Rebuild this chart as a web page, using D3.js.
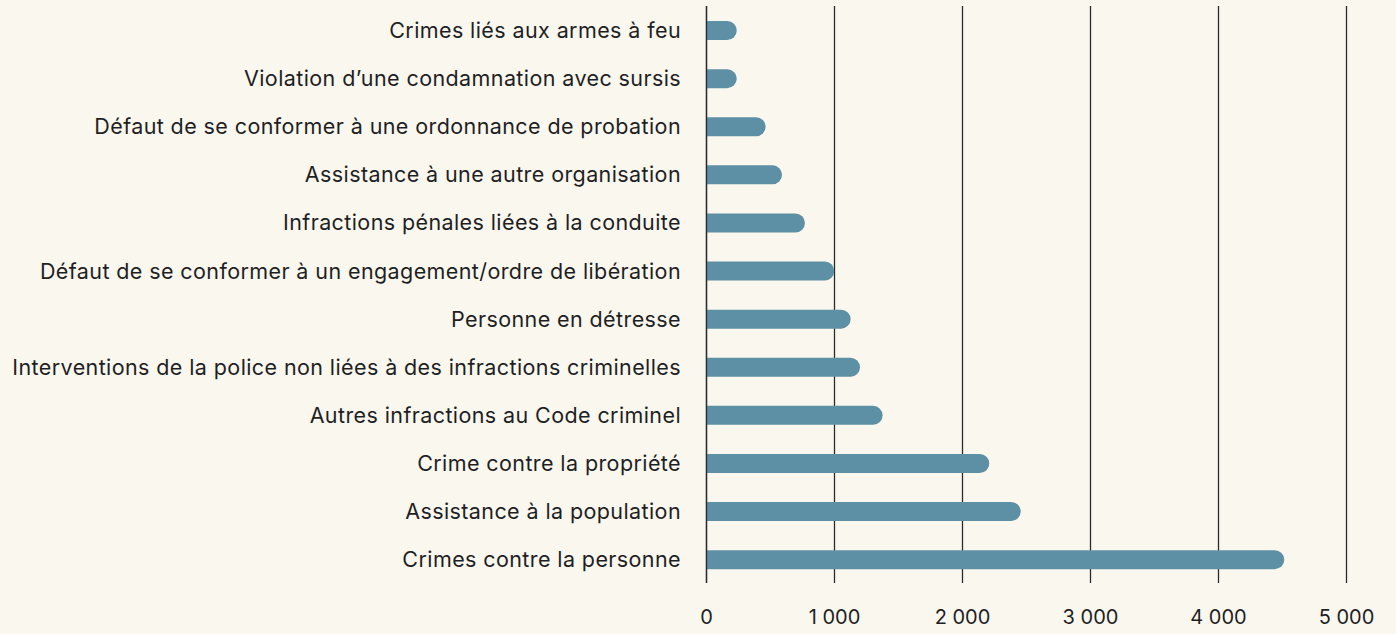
<!DOCTYPE html>
<html>
<head>
<meta charset="utf-8">
<script src="https://cdn.jsdelivr.net/npm/d3@7"></script>
<style>
  body { margin: 0; background: #faf7ef; }
  svg { display: block; }
  .label, .tick text { font-family: "Inter", "Liberation Sans", sans-serif; fill: #1f1f1f; }
</style>
</head>
<body>
<div id="chart"></div>
<script>
var categories = [
  "Crimes liés aux armes à feu",
  "Violation d’une condamnation avec sursis",
  "Défaut de se conformer à une ordonnance de probation",
  "Assistance à une autre organisation",
  "Infractions pénales liées à la conduite",
  "Défaut de se conformer à un engagement/ordre de libération",
  "Personne en détresse",
  "Interventions de la police non liées à des infractions criminelles",
  "Autres infractions au Code criminel",
  "Crime contre la propriété",
  "Assistance à la population",
  "Crimes contre la personne"
];
var values = [240, 240, 466, 594, 773, 1002, 1130, 1203, 1380, 2213, 2459, 4518];
var ticks = [0, 1000, 2000, 3000, 4000, 5000];
var tickLabels = ["0", "1 000", "2 000", "3 000", "4 000", "5 000"];

var width = 1396, height = 634;
var x0 = 706;

var svg = d3.select('#chart').append('svg')
    .attr('width', width)
    .attr('height', height);

var xScale = d3.scaleLinear()
    .domain([0, 5000])
    .range([x0, x0 + 640]);

var yScale = d3.scaleBand()
    .domain(categories)
    .range([6.5, 583.7])
    .padding(0);

var barH = 19;
var r = barH / 2;

// gridlines
svg.append('g')
    .selectAll('line')
    .data(ticks)
    .enter()
    .append('line')
    .attr('x1', d => Math.round(xScale(d)) + 0.5)
    .attr('x2', d => Math.round(xScale(d)) + 0.5)
    .attr('y1', 6)
    .attr('y2', 583)
    .attr('stroke', '#2b2b2b')
    .attr('stroke-width', 1.3);

// bars, flat at the start, round at the end
svg.append('g')
    .selectAll('path')
    .data(values)
    .enter()
    .append('path')
    .attr('fill', '#5e90a5')
    .attr('d', function(d, i) {
        var yc = yScale(categories[i]) + yScale.bandwidth() / 2;
        var xs = xScale(0), xe = xScale(d);
        var top = yc - r, bot = yc + r;
        return `M${xs},${top} L${xe - r},${top} A${r},${r} 0 0 1 ${xe - r},${bot} L${xs},${bot} Z`;
    });

// redraw the zero line on top of the bars
svg.append('line')
    .attr('x1', Math.round(xScale(0)) + 0.5)
    .attr('x2', Math.round(xScale(0)) + 0.5)
    .attr('y1', 6)
    .attr('y2', 583)
    .attr('stroke', '#2b2b2b')
    .attr('stroke-width', 1.3);

// category labels
svg.append('g')
    .selectAll('text')
    .data(categories)
    .enter()
    .append('text')
    .attr('class', 'label')
    .attr('x', 681)
    .attr('y', d => yScale(d) + yScale.bandwidth() / 2)
    .attr('dy', '0.35em')
    .attr('text-anchor', 'end')
    .style('font-size', '21.5px')
    .style('letter-spacing', '0.4px')
    .text(d => d);

// x axis labels
var xAxis = d3.axisBottom(xScale)
    .tickValues(ticks)
    .tickFormat((d, i) => tickLabels[i])
    .tickSize(0)
    .tickPadding(0);

svg.append('g')
    .attr('class', 'x axis')
    .attr('transform', 'translate(0,610)')
    .call(xAxis)
    .call(g => g.select('.domain').remove())
    .call(g => g.selectAll('text').style('font-size', '20px'));
</script>
</body>
</html>
